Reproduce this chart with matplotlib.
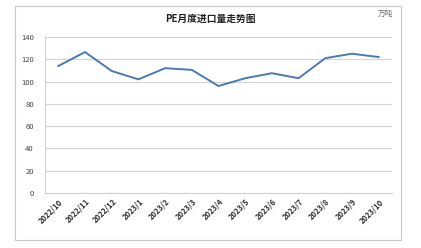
import matplotlib.pyplot as plt
import matplotlib.patches as patches

plt.rcParams['font.family'] = ['Noto Sans CJK SC', 'DejaVu Sans']

months = ["2022/10", "2022/11", "2022/12", "2023/1", "2023/2", "2023/3", "2023/4",
          "2023/5", "2023/6", "2023/7", "2023/8", "2023/9", "2023/10"]
imports = [114, 126.5, 109.5, 102, 112, 110.5, 96, 103, 107.5, 103, 121, 125, 122]

fig = plt.figure(figsize=(4.21, 2.48), dpi=100)
fig.patches.append(patches.Rectangle((15 / 421, 1 - 240 / 248), 386 / 421, 234 / 248,
                                     transform=fig.transFigure, fill=False,
                                     edgecolor='#c8c8c8', linewidth=0.8))
ax = fig.add_axes([45 / 421, 1 - 193 / 248, 347 / 421, 156 / 248])

x = range(len(months))
ax.plot(x, imports, color='#4a7ab5', linewidth=1.4)
ax.set_xlim(-0.5, len(months) - 0.5)
ax.set_ylim(0, 140)
ax.set_yticks(range(0, 141, 20))
ax.set_xticks(list(x))
ax.set_xticklabels(months, rotation=45, ha='right', rotation_mode='anchor',
                   fontsize=5.5, fontweight='bold', color='#333333')
ax.tick_params(axis='y', labelsize=5.5, labelcolor='#444444', length=0, pad=8)
ax.tick_params(axis='x', length=0, pad=3)
ax.grid(axis='y', color='#d4d4d4', linewidth=0.8)
ax.set_axisbelow(True)
for s in ['top', 'right']:
    ax.spines[s].set_visible(False)
ax.spines['left'].set_color('#d0d0d0')
ax.spines['bottom'].set_color('#d0d0d0')

fig.text(0.5, 1 - 19 / 248, "PE月度进口量走势图", ha='center', va='center',
         fontsize=7, fontweight='bold', color='#222222')
fig.text(393 / 421, 1 - 14 / 248, "万吨", ha='right', va='center',
         fontsize=5.5, color='#666666')

fig.savefig('out.png', dpi=100)
